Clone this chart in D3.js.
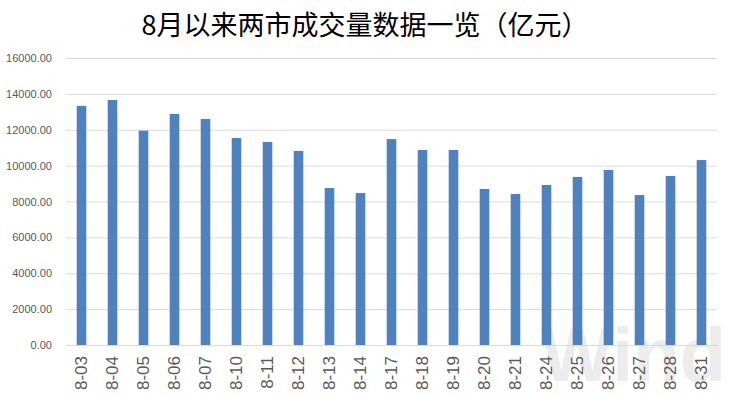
<!DOCTYPE html>
<html>
<head>
<meta charset="utf-8">
<script src="https://cdn.jsdelivr.net/npm/d3@7"></script>
<style>
  body { margin: 0; background: #fff; }
</style>
</head>
<body>
<svg></svg>
<script>
const titleText = "8月以来两市成交量数据一览（亿元）";
const dates = ["8-03", "8-04", "8-05", "8-06", "8-07", "8-10", "8-11", "8-12", "8-13", "8-14",
    "8-17", "8-18", "8-19", "8-20", "8-21", "8-24", "8-25", "8-26", "8-27", "8-28", "8-31"];
const volumes = [13330, 13660, 11950, 12880, 12600, 11540, 11320, 10820, 8750, 8470,
    11480, 10870, 10870, 8700, 8420, 8920, 9370, 9760, 8360, 9420, 10310];
const yTicks = [0, 2000, 4000, 6000, 8000, 10000, 12000, 14000, 16000];

let width = 730;
let height = 397;

let svg = d3.select("svg")
    .attr("width", width)
    .attr("height", height);

let plotLeft = 66, plotRight = 717, plotTop = 58, plotBottom = 345;

// watermark
svg.append("text")
    .attr("x", 726)
    .attr("y", 381)
    .attr("text-anchor", "end")
    .style("font-family", "Liberation Sans, Arial, sans-serif")
    .style("font-size", "76px")
    .style("font-weight", "bold")
    .style("fill", "#ececec")
    .text("Wind");

let scaleX = d3.scaleBand()
    .domain(dates)
    .range([plotLeft, plotRight])
    .paddingInner(0.69)
    .paddingOuter(0.345);

let scaleY = d3.scaleLinear()
    .domain([0, 16000])
    .range([plotBottom, plotTop]);

// сетка
let axisY = d3.axisLeft(scaleY)
    .tickValues(yTicks)
    .tickSize(-(plotRight - plotLeft))
    .tickPadding(14)
    .tickFormat(d3.format(".2f"));

let gY = svg.append("g")
    .attr("transform", `translate(${plotLeft}, 0)`)
    .call(axisY);
gY.select(".domain").remove();
gY.selectAll(".tick line").attr("stroke", "#d9d9d9");
gY.selectAll(".tick text")
    .style("font-family", "Liberation Sans, Arial, sans-serif")
    .style("font-size", "11px")
    .style("fill", "#595959");

// столбцы
svg.append("g")
    .selectAll("rect")
    .data(volumes)
    .join("rect")
    .attr("x", (d, i) => scaleX(dates[i]))
    .attr("y", d => scaleY(d))
    .attr("width", scaleX.bandwidth())
    .attr("height", d => plotBottom - scaleY(d))
    .attr("fill", "#4f81bd");

// подписи оси X
let axisX = d3.axisBottom(scaleX).tickSize(0).tickPadding(0);
let gX = svg.append("g")
    .attr("transform", `translate(0, ${plotBottom})`)
    .call(axisX);
gX.select(".domain").attr("stroke", "#d9d9d9");
gX.selectAll(".tick text")
    .attr("transform", "rotate(-90)")
    .attr("x", -11)
    .attr("y", 0)
    .attr("dy", "0.35em")
    .attr("text-anchor", "end")
    .style("font-family", "Liberation Sans, Arial, sans-serif")
    .style("font-size", "17px")
    .style("fill", "#595959");

svg.append("text")
    .attr("x", 365)
    .attr("y", 35)
    .attr("text-anchor", "middle")
    .style("font-family", "Noto Sans CJK SC, sans-serif")
    .style("font-size", "27px")
    .style("fill", "#000")
    .text(titleText);
</script>
</body>
</html>
